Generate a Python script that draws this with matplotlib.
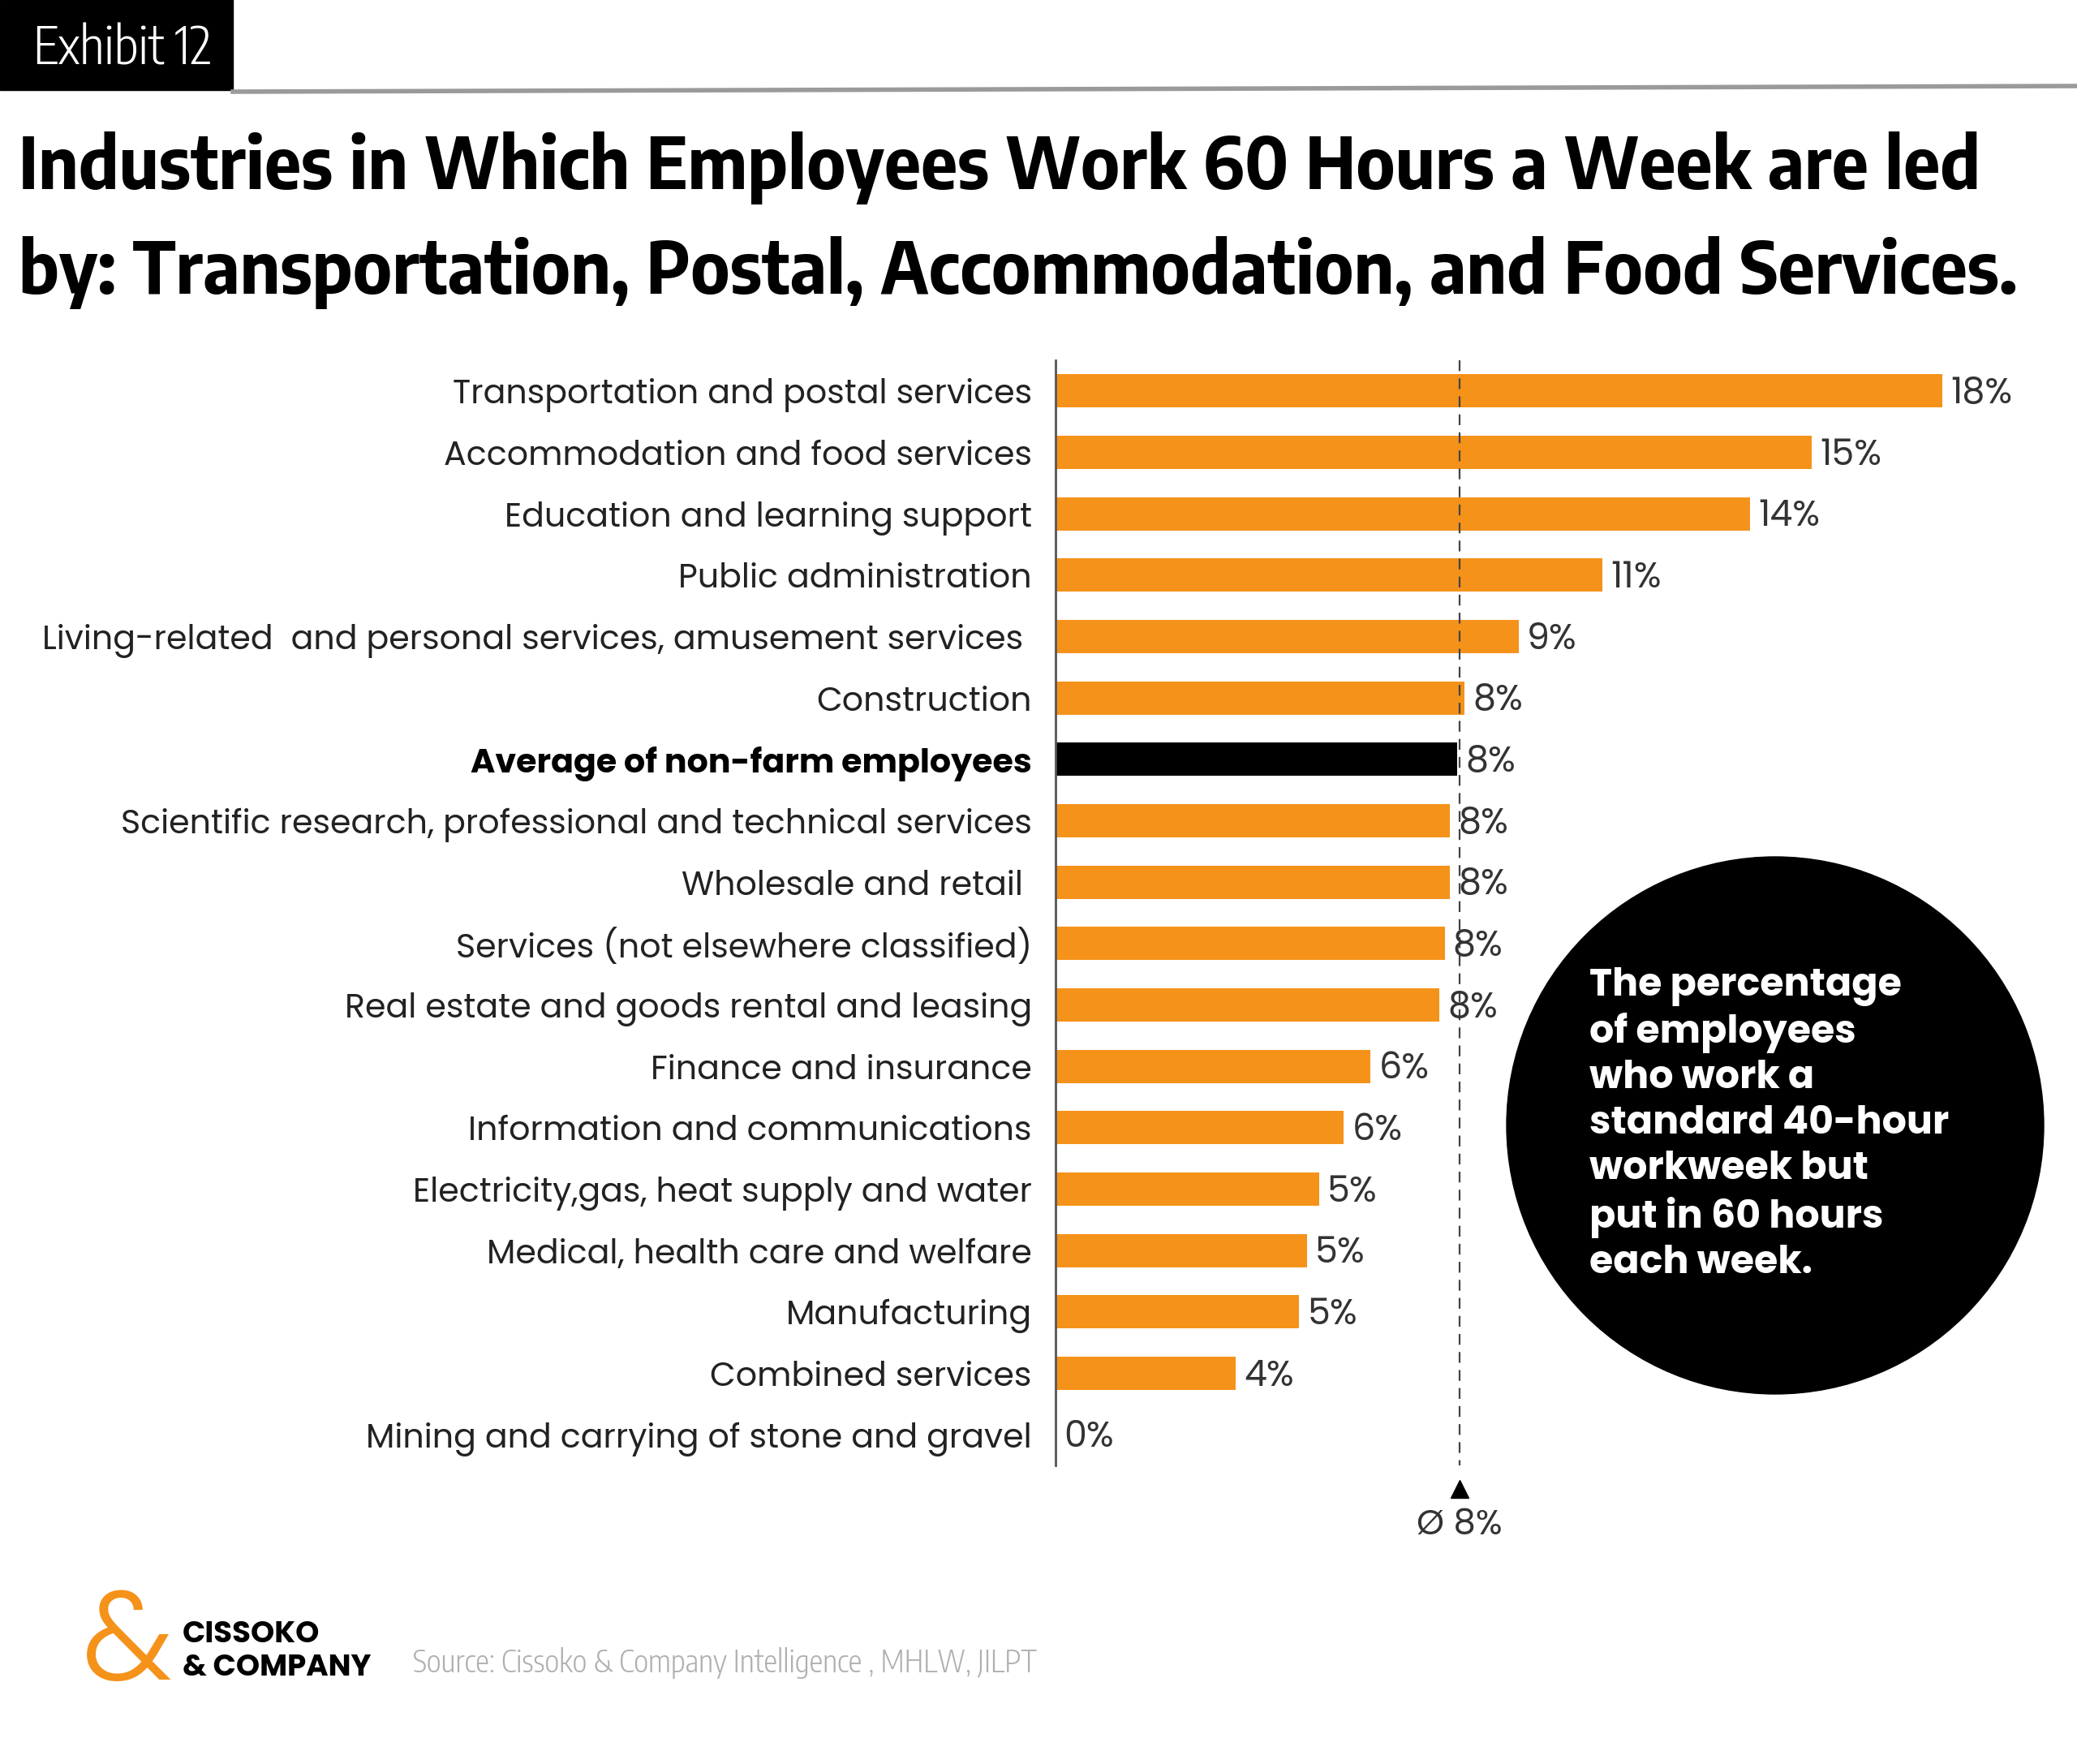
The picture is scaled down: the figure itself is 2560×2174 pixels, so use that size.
import matplotlib
matplotlib.use("Agg")
import matplotlib.pyplot as plt
from matplotlib.patches import Ellipse, Rectangle
from matplotlib.lines import Line2D

# data (share of employees, %)
categories = [
    "Transportation and postal services",
    "Accommodation and food services",
    "Education and learning support",
    "Public administration",
    "Living-related  and personal services, amusement services ",
    "Construction",
    "Average of non-farm employees",
    "Scientific research, professional and technical services",
    "Wholesale and retail ",
    "Services (not elsewhere classified)",
    "Real estate and goods rental and leasing",
    "Finance and insurance",
    "Information and communications",
    "Electricity,gas, heat supply and water",
    "Medical, health care and welfare",
    "Manufacturing",
    "Combined services",
    "Mining and carrying of stone and gravel",
]
values = [18.0, 15.35, 14.1, 11.1, 9.4, 8.3, 8.15, 8.0, 8.0, 7.9, 7.8,
          6.4, 5.85, 5.35, 5.1, 4.95, 3.65, 0.0]
value_labels = ["18%", "15%", "14%", "11%", "9%", "8%", "8%", "8%", "8%", "8%",
                "8%", "6%", "6%", "5%", "5%", "5%", "4%", "0%"]
average = 8.2
average_label = "Ø 8%"
highlight = "Average of non-farm employees"

title_lines = ["Industries in Which Employees Work 60 Hours a Week are led",
               "by: Transportation, Postal, Accommodation, and Food Services."]
note = ("The percentage\nof employees\nwho work a\nstandard 40-hour\n"
        "workweek but\nput in 60 hours\neach week.")
source = "Source: Cissoko & Company Intelligence , MHLW, JILPT"

ORANGE = "#F5921A"
W, H = 2560, 2174
geo = ["Poppins", "DejaVu Sans"]
cond_bold = ["Encode Sans Semi Condensed", "DejaVu Sans"]
cond_light = ["Encode Sans Condensed", "DejaVu Sans"]
plt.rcParams["font.family"] = geo

fig = plt.figure(figsize=(W / 100, H / 100), dpi=100)
renderer = fig.canvas.get_renderer()


def fx(px):
    return px / W


def fy(py):
    return 1 - py / H


def fit(t, target):
    w = t.get_window_extent(renderer).width
    t.set_fontsize(t.get_fontsize() * target / w)
    return t


# header
fig.add_artist(Rectangle((0, fy(111)), fx(287), 111 / H, color="black",
                         transform=fig.transFigure))
fit(fig.text(fx(41), fy(80), "Exhibit 12", color="white", family=cond_light,
             weight=300, fontsize=40, va="baseline"), 220)
fig.add_artist(Line2D([fx(287), 1], [fy(113), fy(106)], color="#9a9a9a", lw=4,
                      transform=fig.transFigure))
fit(fig.text(fx(23), fy(233), title_lines[0], family=cond_bold, weight=700,
             fontsize=70, va="baseline"), 2418)
fit(fig.text(fx(23), fy(362), title_lines[1], family=cond_bold, weight=700,
             fontsize=70, va="baseline"), 2462)

# bars
ax = fig.add_axes([fx(1301), fy(1806), 1214 / W, 1362 / H])
ypos = list(range(len(categories)))
colors = ["black" if c == highlight else ORANGE for c in categories]
ax.barh(ypos, values, height=0.54, color=colors)
ax.set_xlim(0, 20)
ax.set_ylim(len(categories) - 0.5, -0.5)
for s in ["top", "right", "bottom"]:
    ax.spines[s].set_visible(False)
ax.spines["left"].set_color("#555555")
ax.spines["left"].set_linewidth(2)
ax.set_xticks([])
ax.set_yticks(ypos)
ax.set_yticklabels(categories)
ax.tick_params(axis="y", length=0, pad=21)

longest = fig.text(0, 0, categories[4], fontsize=30)
fit(longest, 1221)
label_size = longest.get_fontsize()
longest.remove()

for lab in ax.get_yticklabels():
    lab.set_fontsize(label_size)
    lab.set_color("#222222")
    if lab.get_text() == highlight:
        lab.set_fontweight(700)
        lab.set_color("black")

for i, (v, t) in enumerate(zip(values, value_labels)):
    ax.text(v + 0.17, i + 0.06, t, va="center", ha="left",
            fontsize=label_size * 1.08, color="#333333")

ax.vlines(average, -0.5, len(categories) - 0.5, colors="#444444",
          linestyles=(0, (6, 4)), lw=1.6)
ax.plot([average], [17.88], marker="^", color="black", markersize=16,
        clip_on=False)
ax.text(average, 18.49, average_label, ha="center", va="center",
        fontsize=label_size * 1.05, color="#333333", clip_on=False)

# callout circle
fig.add_artist(Ellipse((fx(2188), fy(1387)), 662 / W, 662 / H, color="black",
                       transform=fig.transFigure))
t = fig.text(fx(1959), fy(1387), note, color="white", weight=700,
             fontsize=30, va="center", ha="left", linespacing=1.23)
fit(t, 442)

# footer
fig.text(fx(157), fy(2032), "&", color=ORANGE, fontsize=112, weight=300,
         ha="center", va="center")
cis = fig.text(fx(225), fy(2024), "CISSOKO", weight=700, fontsize=20,
               va="baseline")
comp = fit(fig.text(fx(225), fy(2065), "& COMPANY", weight=700, fontsize=20,
                    va="baseline"), 233)
cis.set_fontsize(comp.get_fontsize())
fit(fig.text(fx(509), fy(2061), source, color="#b0b0b0", family=cond_light,
             weight=300, fontsize=25, va="baseline"), 769)

fig.savefig("out.png", dpi=100)
